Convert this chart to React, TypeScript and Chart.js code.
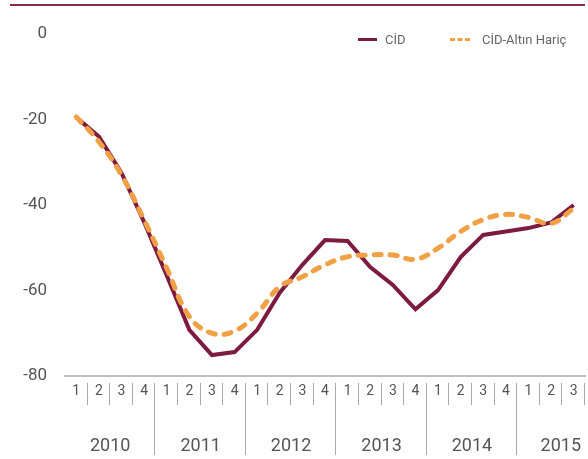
import { useEffect, useRef } from 'react';
import { Chart, registerables } from 'chart.js';

Chart.register(...registerables);

const quarterLabels = ['1', '2', '3', '4', '1', '2', '3', '4', '1', '2', '3', '4', '1', '2', '3', '4', '1', '2', '3', '4', '1', '2', '3'];
const yearLabels = ['2010', '2011', '2012', '2013', '2014', '2015'];
const quartersPerYear = [4, 4, 4, 4, 4, 3];
const seriesNames = ['CİD', 'CİD-Altın Hariç'];
const cidValues = [-19.5, -24, -32.5, -44, -56.5, -69.2, -75.1, -74.4, -69.2, -60.5, -54, -48.2, -48.4, -54.5, -58.7, -64.4, -59.9, -52.2, -47, -46.2, -45.4, -44.1, -40];
const cidExGoldValues = [-19.4, -25.2, -33, -43.5, -54.8, -66.1, -70, -69.5, -65.3, -59.1, -56.8, -54, -52.1, -51.7, -51.7, -52.7, -50.1, -46.2, -43.4, -42.2, -42.9, -44.3, -40.8];
const yMin = -80;
const yMax = 0;
const yStep = 20;

const FONT = 'Roboto, "DejaVu Sans", sans-serif';
const TEXT = '#555555';
const DARK = '#7d1a40';
const ORANGE = '#f1a046';

const decorPlugin = {
  id: 'decor',
  afterDraw(chart: any) {
    const ctx = chart.ctx as CanvasRenderingContext2D;
    const x = chart.scales.x;
    const area = chart.chartArea;
    ctx.save();
    // top rule
    ctx.strokeStyle = '#8a2a4a';
    ctx.lineWidth = 2;
    ctx.beginPath();
    ctx.moveTo(10, 5);
    ctx.lineTo(area.right, 5);
    ctx.stroke();

    // quarter / year separators and year labels
    const half = (x.getPixelForValue(1) - x.getPixelForValue(0)) / 2;
    ctx.strokeStyle = '#aaaaaa';
    ctx.lineWidth = 1;
    ctx.fillStyle = TEXT;
    ctx.font = `18px ${FONT}`;
    ctx.textBaseline = 'middle';
    let idx = 0;
    quartersPerYear.forEach((n, yi) => {
      const start = idx;
      idx += n;
      for (let q = 0; q < n; q++) {
        const i = start + q;
        const sx = Math.round(x.getPixelForValue(i) + half) - 0.5;
        const yearEnd = q === n - 1 && yi < quartersPerYear.length - 1;
        ctx.beginPath();
        ctx.moveTo(sx, area.bottom + 7);
        ctx.lineTo(sx, yearEnd ? 455 : 405);
        ctx.stroke();
      }
      const left = x.getPixelForValue(start) - half;
      const right = x.getPixelForValue(start + n - 1) + half;
      if (n < 4) {
        ctx.textAlign = 'right';
        ctx.fillText(yearLabels[yi], right - 4, 446);
      } else {
        ctx.textAlign = 'center';
        ctx.fillText(yearLabels[yi], (left + right) / 2, 446);
      }
    });

    // legend
    ctx.font = `13px ${FONT}`;
    ctx.textAlign = 'left';
    ctx.textBaseline = 'middle';
    const ly = 39.5;
    const ds = chart.data.datasets;
    ctx.strokeStyle = ds[0].borderColor;
    ctx.lineWidth = 3;
    ctx.setLineDash([]);
    ctx.beginPath();
    ctx.moveTo(358, ly);
    ctx.lineTo(377, ly);
    ctx.stroke();
    ctx.fillStyle = '#666666';
    ctx.fillText(ds[0].label, 385, ly + 1);
    ctx.strokeStyle = ds[1].borderColor;
    ctx.lineWidth = 3;
    ctx.setLineDash([5, 2.5]);
    ctx.beginPath();
    ctx.moveTo(450, ly);
    ctx.lineTo(471, ly);
    ctx.stroke();
    ctx.setLineDash([]);
    ctx.fillText(ds[1].label, 482, ly + 1);
    ctx.restore();
  },
};

export default function App() {
  const ref = useRef<HTMLCanvasElement>(null);
  useEffect(() => {
    if (!ref.current) return;
    const chart = new Chart(ref.current, {
      type: 'line',
      data: {
        labels: quarterLabels,
        datasets: [
          {
            label: seriesNames[0],
            data: cidValues,
            borderColor: DARK,
            backgroundColor: DARK,
            borderWidth: 4,
            tension: 0,
            pointRadius: 0,
            order: 1,
          },
          {
            label: seriesNames[1],
            data: cidExGoldValues,
            borderColor: ORANGE,
            backgroundColor: ORANGE,
            borderWidth: 5,
            borderDash: [7, 9],
            borderCapStyle: 'round',
            tension: 0.4,
            pointRadius: 0,
            order: 0,
          },
        ],
      },
      options: {
        responsive: false,
        animation: false,
        devicePixelRatio: 1,
        layout: { padding: { top: 34, right: 3, left: 0, bottom: 0 } },
        plugins: {
          legend: { display: false },
          tooltip: { enabled: false },
        },
        scales: {
          x: {
            type: 'category',
            offset: true,
            grid: { display: false, drawTicks: false },
            border: { display: true, color: '#bdbdbd', width: 2 },
            ticks: {
              font: { family: FONT, size: 14 },
              color: TEXT,
              padding: 7,
              maxRotation: 0,
              autoSkip: false,
            },
            afterFit(scale: any) {
              scale.height = 83;
            },
          },
          y: {
            min: yMin,
            max: yMax,
            grid: { display: false, drawTicks: false },
            border: { display: false },
            ticks: {
              stepSize: yStep,
              font: { family: FONT, size: 17 },
              color: TEXT,
              padding: 18,
            },
            afterFit(scale: any) {
              scale.width = 65;
            },
          },
        },
      },
      plugins: [decorPlugin],
    });
    return () => chart.destroy();
  }, []);
  return (
    <div style={{ position: 'absolute', left: 0, top: 0, width: 588, height: 459, background: '#fff' }}>
      <canvas ref={ref} width={588} height={459} style={{ display: 'block' }} />
    </div>
  );
}
